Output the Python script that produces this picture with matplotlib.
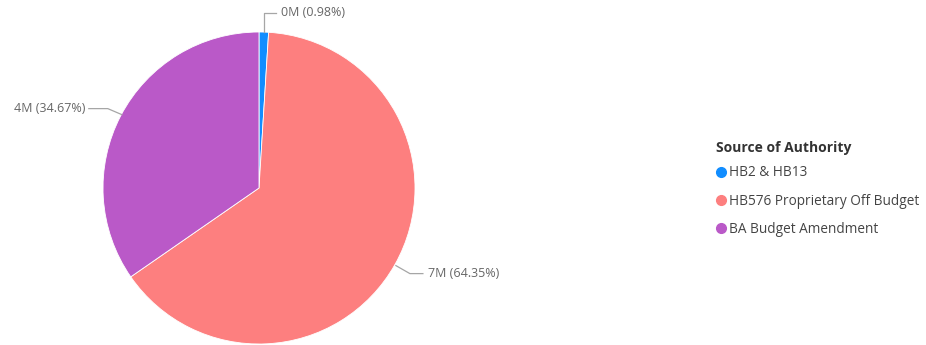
import numpy as np
import matplotlib
matplotlib.use('Agg')
import matplotlib.pyplot as plt
from matplotlib.lines import Line2D

plt.rcParams['font.family'] = ['Open Sans', 'DejaVu Sans']

# data
categories = ['HB2 & HB13', 'HB576 Proprietary Off Budget', 'BA Budget Amendment']
values = [0.108, 7.08, 3.81]   # millions
pct_labels = ['0.98%', '64.35%', '34.67%']
colors = ['#118DFF', '#FD7F7F', '#BA59C8']
legend_title = 'Source of Authority'

W, H = 926, 345
fig = plt.figure(figsize=(W / 100, H / 100), dpi=100)
ax = fig.add_axes([0, 0, 1, 1])

cx, cy, r = 259, H - 188, 156
wedges, _ = ax.pie(values, colors=colors, startangle=90, counterclock=False,
                   center=(cx, cy), radius=r, frame=True,
                   wedgeprops=dict(linewidth=0.6, edgecolor='white'))
ax.set_xlim(0, W)
ax.set_ylim(0, H)
ax.set_aspect('equal')
ax.axis('off')

# data labels with leader lines
line_kw = dict(color='#A6A6A6', lw=0.9)
txt_kw = dict(fontsize=9, color='#666666', va='center')
for i, w in enumerate(wedges):
    mid = np.deg2rad((w.theta1 + w.theta2) / 2)
    ex, ey = cx + r * np.cos(mid), cy + r * np.sin(mid)
    lab = f'{values[i]:.0f}M ({pct_labels[i]})'
    if i == 0:
        ty = H - 13
        ax.plot([ex, ex, ex + 12], [ey, ty, ty], **line_kw)
        ax.text(ex + 17, ty, lab, ha='left', **txt_kw)
    elif i == 1:
        ax.plot([ex + 1, ex + 15, ex + 28], [ey - 1, ey - 9, ey - 9], **line_kw)
        ax.text(ex + 33, ey - 9, lab, ha='left', **txt_kw)
    else:
        ax.plot([ex + 1, ex - 13, ex - 32], [ey + 1, ey + 7, ey + 7], **line_kw)
        ax.text(ex - 35, ey + 7, lab, ha='right', **txt_kw)

ax.text(716, H - 148, legend_title, fontsize=10, fontweight='bold',
        color='#333333', ha='left', va='center')
handles = [Line2D([0], [0], marker='o', color='none', markerfacecolor=c,
                  markeredgecolor=c, markersize=7) for c in colors]
leg = ax.legend(handles, categories, loc='upper left',
                bbox_to_anchor=(711 / W, 1 - 160 / H), frameon=False,
                fontsize=9.8, handlelength=0.6,
                handletextpad=0.3, labelspacing=0.98, borderaxespad=0)
for t in leg.get_texts():
    t.set_color('#444444')

fig.savefig('out.png', dpi=100, facecolor='white')
